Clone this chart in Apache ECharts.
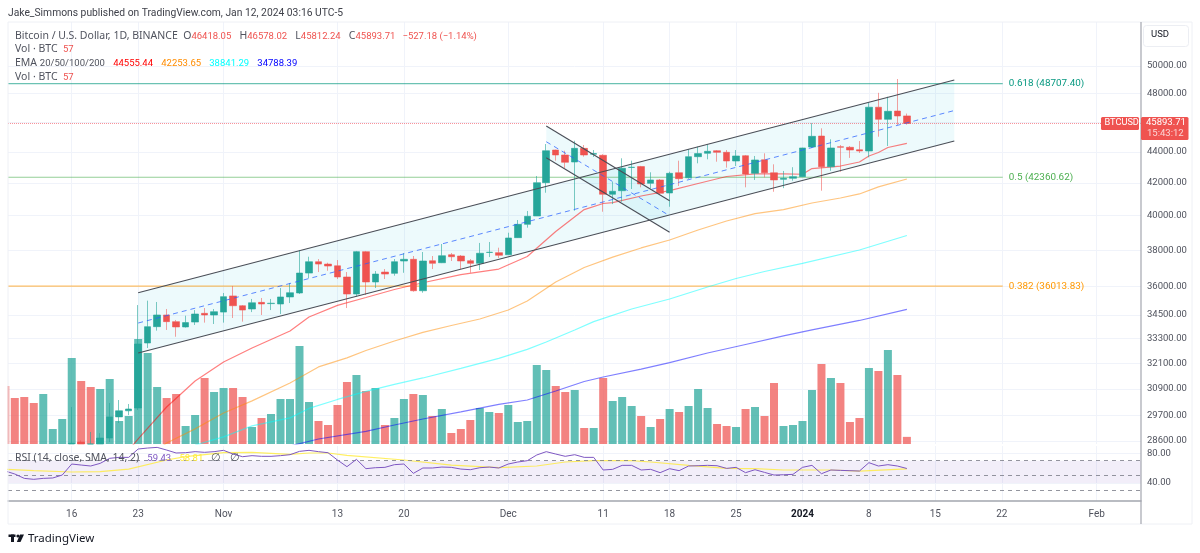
<!DOCTYPE html>
<html>
<head>
<meta charset="utf-8">
<title>BTCUSD</title>
<script src="https://cdn.jsdelivr.net/npm/echarts@6/dist/echarts.min.js"></script>
<style>
html, body { margin: 0; padding: 0; background: #fff; }
#chart { width: 1200px; height: 553px; }
</style>
</head>
<body>
<div id="chart"></div>
<script>
// daily bars: index 0 = 2023-10-09, last index 95 = 2024-01-12
var opens = [27900,27590,27390,26870,26760,26860,26870,27160,28550,28420,28320,28720,29640,29910,30035,33090,33905,34500,34160,33890,34140,34585,34500,
  34650,35495,34980,34810,35155,35090,35070,35440,35650,36725,37350,37220,37125,36510,35595,37915,36240,36780,36710,37390,37485,35770,37405,37295,37740,37670,37405,37260,37870,37860,
  37740,38715,39490,39985,42020,44115,43790,43335,44225,43840,43770,41300,41520,42980,43040,41980,42190,41380,42650,42330,43680,43900,44070,43965,43400,43745,42610,43480,42645,42230,42295,
  42400,44315,45045,43030,44335,44295,44135,44050,47020,46180,46755,46418.05];
var closes = [27590,27390,26870,26760,26860,26870,27160,28500,28420,28320,28720,29640,29910,29990,33040,33905,34500,34160,33890,34110,34550,34500,34670,
  35455,34980,34755,35135,35070,35110,35440,35665,36725,37350,37220,37110,36510,35595,37915,36240,36670,36670,37350,37485,35770,37390,37260,37685,37630,37390,37260,37825,37880,37710,
  38695,39490,39965,42020,44070,43790,43315,44225,43790,43880,41300,41485,42930,43000,41940,42190,41360,42610,42270,43680,43880,44030,43965,43400,43725,42570,43465,42645,42190,42295,42400,
  44250,45025,43030,44250,44295,44115,44050,47020,46180,46735,46410,45893.71];
var lows = [27360,27300,26560,26540,26700,26810,26820,27120,28100,28150,28200,28550,29370,29720,29945,32845,33705,33740,33400,33860,33990,34110,34040,
  34110,34345,34160,34650,34500,34755,34550,35120,35595,36450,36780,36850,36400,34860,35455,35545,35915,36400,36580,36740,35720,35665,36945,37275,37390,36945,36740,36890,37610,37555,
  37725,38695,39295,39985,41395,43420,42950,40300,43680,43660,40240,40700,40845,41625,41730,41670,41315,40540,41815,42270,43250,43510,43355,42970,43075,41730,42190,42355,41455,41680,42145,
  42380,44250,41520,42770,42710,43600,43920,43640,45000,44380,45795,45812.24];
var highs = [27980,27730,27480,26940,27100,26930,27300,30080,28620,28980,28930,30260,30395,30215,35015,35245,35175,34810,34245,34465,34755,34860,34810,
  35650,36025,35015,35335,35385,35335,35915,36185,38010,37630,37500,37295,37445,36780,37955,37955,36835,36945,37500,37840,37670,37895,37670,38350,37840,37725,37500,38410,38465,38140,
  39000,39745,40285,42440,44510,44135,44070,44730,44445,44115,43840,42080,43575,43420,43085,42675,42250,42710,43420,44180,44335,44495,44115,44115,44115,43790,43725,43900,43185,42760,43000,
  44265,45920,45565,44825,44445,44380,44710,47370,48040,47760,49040,46578.02];
var volumes = [464,368,376,328,400,120,200,688,504,456,440,520,184,224,840,728,456,368,400,144,232,528,416,
  448,448,376,136,208,240,360,360,784,336,184,152,312,496,552,424,448,152,208,360,400,392,224,280,88,120,192,288,256,248,
  312,176,184,632,592,464,416,432,128,128,528,344,376,304,224,136,200,280,256,304,440,288,160,144,136,280,296,224,488,144,152,
  184,432,640,528,488,176,208,608,584,752,552,57];
var rsi = [56,52,46.1,44.8,46.1,46.6,50.6,65.5,64.1,62.8,66.4,73.2,74.5,74.5,85.8,87.1,88,84.4,80.4,80.8,82.2,81.3,82.2,84,79,75.4,76.8,75.9,75.9,76.8,78.1,82.6,84,82.2,80.8,70.9,61.9,71.8,59.2,60.5,61,64.6,65.5,52.9,60.1,60.1,61.4,61,58.7,57.8,60.5,61.4,60.1,
  65.5,68.2,70,77.7,82.2,79,75.9,78.1,74.5,74.5,57.4,58.3,63.7,63.7,57.4,58.3,53.8,59.2,56.5,62.8,63.2,63.7,63.2,59.6,61,53.8,57.8,54.2,50.6,51,51.5,61,63.7,52.4,57.4,56.9,56.5,56,67.3,62.8,64.6,62.8,59.43];

// moving averages, read at the days listed
var ema20Days = [13,14,17,20,23,26,30,32,35,38,41,44,48,52,55,58,61,63,64,67,70,73,76,79,82,84,85,88,90,91,92,93,95];
var ema20 = [28210,28680,30080,31270,32170,32845,33690,34400,35000,35410,35835,36200,36640,36945,37640,39070,40370,40735,40785,41195,41530,41970,42410,42570,42570,42550,42915,43075,43335,43725,43950,44280,44555.44];
var ema50Days = [16,17,20,23,26,30,33,36,38,41,44,47,50,53,55,58,61,64,67,70,73,76,79,82,85,88,90,92,95];
var ema50 = [28210,28510,29115,29815,30355,31175,31930,32365,32720,33190,33615,33965,34295,34755,35230,36240,37030,37610,38125,38580,39160,39685,40130,40370,40765,41070,41320,41755,42253.65];
var ema100Days = [20,23,26,30,32,35,38,41,44,48,52,55,57,60,62,66,70,74,77,80,84,90,95];
var ema100 = [28420,28770,29245,29595,30015,30420,30785,31110,31410,31860,32340,32775,33140,33740,34160,34810,35330,35970,36430,36810,37255,38010,38841.29];
var ema200Days = [30,33,38,41,44,48,52,55,58,61,63,67,70,74,78,82,85,90,95];
var ema200 = [28380,28680,29005,29285,29545,29860,30195,30395,30805,31245,31455,31830,32135,32600,33015,33440,33740,34220,34788.39];
var rsiMaDays = [0,3,7,10,13,17,19,23,26,30,32,34,36,42,47,52,56,59,62,66,68,72,76,79,82,87,90,95];
var rsiMa = [58.3,56.5,54.7,55.1,58.7,70.9,75.4,80.8,81.3,78.6,80.4,80.4,77.2,70.9,64.1,60.5,62.8,68.2,70,70,68.2,63.7,59.6,59.2,57.4,57.4,56,58.81];

// fib levels
var fibNames = ['0.618', '0.5', '0.382'];
var fibValues = [48707.40, 42360.62, 36013.83];
var fibColors = ['#089981', '#4caf50', '#ff9800'];

// drawn channels: [start day, end day] and price at each end
var chDays = [14, 100];
var chTop = [35665, 48967];
var chMid = [34090, 46790];
var chBottom = [32600, 44710];
var flagDays = [57, 70];
var flagTop = [45725, 40905];
var flagMid = [44665, 40000];
var flagBottom = [43610, 39025];

var lastPrice = 45893.71;
var priceTicks = [50000,48000,46000,44000,42000,40000,38000,36000,34500,33300,32100,30900,29700,28600];
var rsiTicks = [80, 40];
var dateTickDays = [7,14,23,35,42,53,63,70,77,84,91,98,105,115];
var dateTickLabels = ['16','23','Nov','13','20','Dec','11','18','25','2024','8','15','22','Feb'];

var xMin = 0.2845, xMax = 119.67;
var priceMin = 28466, priceMax = 53388;
var upColor = '#26a69a', downColor = '#ef5350';

function pairs(days, vals) {
    return days.map(function (d, i) { return [d, vals[i]]; });
}
function lineSeries(days, vals, color, width, extra) {
    var s = {
        type: 'line', xAxisIndex: 0, yAxisIndex: 0, data: pairs(days, vals),
        showSymbol: false, symbol: 'none', silent: true,
        lineStyle: { color: color, width: width }
    };
    for (var k in extra) s[k] = extra[k];
    return s;
}
function band(days, top, bottom) {
    return {
        type: 'custom', xAxisIndex: 0, yAxisIndex: 0, silent: true, z: 1,
        data: [[days[0], top[0]]],
        renderItem: function (params, api) {
            return {
                type: 'polygon',
                shape: { points: [
                    api.coord([days[0], top[0]]), api.coord([days[1], top[1]]),
                    api.coord([days[1], bottom[1]]), api.coord([days[0], bottom[0]])
                ] },
                style: { fill: 'rgba(0,188,212,0.07)' }
            };
        }
    };
}

// candlestick is not clipped to the pane by echarts, so stop it at the pane floor
function floorPrice(v) { return Math.max(v, priceMin); }
var candles = [];
opens.forEach(function (o, i) {
    if (highs[i] > priceMin) {
        candles.push([i, floorPrice(o), floorPrice(closes[i]), floorPrice(lows[i]), highs[i]]);
    }
});
var volBars = volumes.map(function (v, i) {
    return { value: [i, v], itemStyle: { color: closes[i] >= opens[i] ? upColor : downColor } };
});

var series = [];
series.push({
    type: 'bar', xAxisIndex: 0, yAxisIndex: 1, data: volBars, barWidth: 8, silent: true, z: 2, clip: true,
    itemStyle: { opacity: 0.72 }
});
series.push(band(chDays, chTop, chBottom));
series.push(band(flagDays, flagTop, flagBottom));
fibNames.forEach(function (n, i) {
    series.push(lineSeries([xMin, 105.1], [fibValues[i], fibValues[i]], fibColors[i], 1, {
        z: 3,
        lineStyle: { color: fibColors[i], width: 1.2, opacity: 0.6 },
        endLabel: { show: true, distance: 6, color: fibColors[i], fontSize: 9.9, fontFamily: 'Roboto',
            formatter: n + ' (' + fibValues[i].toFixed(2) + ')' }
    }));
});
series.push(lineSeries([xMin, xMax], [lastPrice, lastPrice], '#f23645', 1, {
    z: 3, lineStyle: { color: '#f23645', width: 1, type: 'dotted', opacity: 0.55 }
}));
series.push(lineSeries(ema20Days, ema20, '#ff0000', 1.2, { z: 4, lineStyle: { color: '#ff0000', width: 1.2, opacity: 0.5 } }));
series.push(lineSeries(ema50Days, ema50, '#ff8c00', 1.2, { z: 4, lineStyle: { color: '#ff8c00', width: 1.2, opacity: 0.5 } }));
series.push(lineSeries(ema100Days, ema100, '#00ffff', 1.2, { z: 4, lineStyle: { color: '#00ffff', width: 1.2, opacity: 0.5 } }));
series.push(lineSeries(ema200Days, ema200, '#0000ff', 1.2, { z: 4, lineStyle: { color: '#0000ff', width: 1.2, opacity: 0.5 } }));
series.push({
    type: 'candlestick', xAxisIndex: 0, yAxisIndex: 0, data: candles, barWidth: 7, silent: true, z: 5,
    encode: { x: 0, y: [1, 2, 3, 4] },
    itemStyle: {
        color: upColor, color0: downColor,
        borderColor: 'rgba(38,166,154,0.6)', borderColor0: 'rgba(239,83,80,0.55)', borderWidth: 1
    }
});
// channel lines
[[chDays, chTop], [chDays, chBottom], [flagDays, flagTop], [flagDays, flagBottom]].forEach(function (c) {
    series.push(lineSeries(c[0], c[1], '#4a4e57', 1.1, { z: 6 }));
});
[[chDays, chMid], [flagDays, flagMid]].forEach(function (c) {
    series.push(lineSeries(c[0], c[1], '#2962ff', 1, {
        z: 6, lineStyle: { color: '#2962ff', width: 1, type: [5, 4], opacity: 0.75 }
    }));
});
// rsi pane
series.push({
    type: 'line', xAxisIndex: 1, yAxisIndex: 2, data: pairs(rsiMaDays, rsiMa), symbol: 'none', silent: true, z: 4,
    lineStyle: { color: '#ffeb3b', width: 1.2, opacity: 0.8 },
    markArea: { silent: true, itemStyle: { color: 'rgba(126,87,194,0.1)' }, data: [[{ yAxis: 70 }, { yAxis: 40 }]] },
    markLine: {
        silent: true, symbol: 'none', label: { show: false },
        lineStyle: { color: '#787b86', type: [4, 4], width: 1, opacity: 0.8 },
        data: [{ yAxis: 70 }, { yAxis: 50 }, { yAxis: 30 }]
    }
});
series.push({
    type: 'line', xAxisIndex: 1, yAxisIndex: 2, data: rsi.map(function (v, i) { return [i, v]; }),
    symbol: 'none', silent: true, z: 5, lineStyle: { color: '#7e57c2', width: 1 }
});

var gridLine = { show: true, lineStyle: { color: '#f0f3fa', width: 1 } };
var textFont = 'Noto Sans', numFont = 'Roboto';
var grey = '#50535e', red = '#ef5350';

// each part: [text, colour, use number font]
function textRow(y, parts) {
    var rich = {}, str = '';
    parts.forEach(function (p, i) {
        rich['t' + i] = { fill: p[1], fontSize: p[2] ? 9.5 : 10.5, fontFamily: p[2] ? numFont : textFont };
        str += '{t' + i + '|' + p[0] + '}';
    });
    return { type: 'text', left: 15, top: y, z: 20, silent: true,
        style: { text: str, rich: rich, fontSize: 10.5, fontFamily: textFont } };
}

var option = {
    animation: false,
    backgroundColor: '#ffffff',
    grid: [
        { left: 8, right: 59, top: 22, height: 422 },
        { left: 8, right: 59, top: 446, height: 55 }
    ],
    xAxis: [
        { type: 'value', gridIndex: 0, min: xMin, max: xMax,
          axisLine: { show: false }, axisLabel: { show: false },
          axisTick: { show: false, customValues: dateTickDays }, splitLine: gridLine },
        { type: 'value', gridIndex: 1, min: xMin, max: xMax,
          axisLine: { show: true, onZero: false, lineStyle: { color: '#a3a6af', width: 1.5 } },
          axisTick: { show: false, customValues: dateTickDays }, splitLine: gridLine,
          axisLabel: { show: true, customValues: dateTickDays, margin: 8, color: grey, fontSize: 10, fontFamily: numFont,
              rich: { b: { color: '#131722', fontSize: 10, fontFamily: numFont, fontWeight: 'bold' } },
              formatter: function (v) {
                  var s = dateTickLabels[dateTickDays.indexOf(v)];
                  return s === '2024' ? '{b|2024}' : s;
              } } }
    ],
    yAxis: [
        { type: 'log', logBase: 10, gridIndex: 0, position: 'right', min: priceMin, max: priceMax,
          axisLine: { show: false }, axisTick: { show: false, customValues: priceTicks }, splitLine: gridLine,
          axisLabel: { show: true, customValues: priceTicks, color: grey, fontSize: 9.5, fontFamily: numFont, margin: 6,
              formatter: function (v) { return Number(v).toFixed(2); } } },
        { type: 'value', gridIndex: 0, position: 'left', min: 0, max: 3376, show: false, splitLine: { show: false } },
        { type: 'value', gridIndex: 1, position: 'right', min: 15.5, max: 89.86,
          axisLine: { show: false }, axisTick: { show: false, customValues: rsiTicks }, splitLine: gridLine,
          axisLabel: { show: true, customValues: rsiTicks, color: grey, fontSize: 9.5, fontFamily: numFont, margin: 6,
              formatter: function (v) { return Number(v).toFixed(2); } } }
    ],
    series: series,
    graphic: [
        // first volume bar sticks out left of the pane, cover it
        { type: 'rect', silent: true, z: 9, shape: { x: 0, y: 22, width: 7.5, height: 430 }, style: { fill: '#ffffff' } },
        { type: 'rect', silent: true, z: 10, shape: { x: 8, y: 22, width: 1184, height: 502 }, style: { fill: 'none', stroke: '#eef0f5', lineWidth: 1 } },
        { type: 'line', silent: true, z: 15, shape: { x1: 1141, y1: 22, x2: 1141, y2: 524 }, style: { stroke: '#a3a6af', lineWidth: 1.2 } },
        { type: 'text', left: 8, top: 8, z: 20, silent: true, style: { text: 'Jake_Simmons published on TradingView.com, Jan 12, 2024 03:16 UTC-5', fill: '#3f414a', fontSize: 10.3, fontFamily: numFont } },
        textRow(31, [['Bitcoin / U.S. Dollar, 1D, BINANCE  O', grey], ['46418.05', red, 1], ['   H', grey], ['46578.02', red, 1], ['   L', grey], ['45812.24', red, 1], ['   C', grey], ['45893.71', red, 1], ['   \u2212527.18 (\u22121.14%)', red, 1]]),
        textRow(44, [['Vol \u00b7 BTC  ', grey], ['57', red, 1]]),
        textRow(58, [['EMA ', grey], ['20/50/100/200', grey, 1], ['   ', grey], ['44555.44', '#ff0000', 1], ['   ', grey], ['42253.65', '#ff8c00', 1], ['   ', grey], ['38841.29', '#00ffff', 1], ['   ', grey], ['34788.39', '#0000ff', 1]]),
        textRow(72, [['Vol \u00b7 BTC  ', grey], ['57', red, 1]]),
        textRow(453, [['RSI (14, close, SMA, 14, 2)   ', grey], ['59.43', '#7e57c2', 1], ['   ', grey], ['58.81', '#ffeb3b', 1], ['   \u2205   \u2205', grey]]),
        // usd box
        { type: 'rect', silent: true, z: 16, shape: { x: 1143.5, y: 25.5, width: 45, height: 21, r: 3 }, style: { fill: '#fff', stroke: '#eceef3', lineWidth: 1 } },
        { type: 'text', left: 1151, top: 30, z: 20, silent: true, style: { text: 'USD', fill: '#131722', fontSize: 9.5, fontFamily: numFont } },
        // last price tags
        { type: 'rect', silent: true, z: 16, shape: { x: 1101, y: 117, width: 38, height: 13, r: 1.5 }, style: { fill: '#ef5350' } },
        { type: 'text', left: 1104.5, top: 118.5, z: 20, silent: true, style: { text: 'BTCUSD', fill: '#fff', fontSize: 9.2, fontFamily: numFont } },
        { type: 'rect', silent: true, z: 16, shape: { x: 1141, y: 117, width: 47.5, height: 23, r: 1.5 }, style: { fill: '#ef5350' } },
        { type: 'text', left: 1146, top: 118, z: 20, silent: true, style: { text: '45893.71', fill: '#fff', fontSize: 9.5, fontFamily: numFont } },
        { type: 'text', left: 1147, top: 129, z: 20, silent: true, style: { text: '15:43:12', fill: '#fbd5d5', fontSize: 9.5, fontFamily: numFont } },
        // logo
        { type: 'rect', silent: true, z: 20, shape: { x: 8.5, y: 534.5, width: 7, height: 2.5 }, style: { fill: '#131722' } },
        { type: 'rect', silent: true, z: 20, shape: { x: 11, y: 534.5, width: 3, height: 7.5 }, style: { fill: '#131722' } },
        { type: 'circle', silent: true, z: 20, shape: { cx: 18, cy: 536, r: 1.6 }, style: { fill: '#131722' } },
        { type: 'polygon', silent: true, z: 20, shape: { points: [[20, 534.5], [24, 534.5], [20.5, 542], [16.8, 542]] }, style: { fill: '#131722' } },
        { type: 'text', left: 28, top: 533, z: 20, silent: true, style: { text: 'TradingView', fill: '#131722', fontSize: 11.5, fontFamily: textFont } }
    ]
};

echarts.init(document.getElementById('chart')).setOption(option);
</script>
</body>
</html>
